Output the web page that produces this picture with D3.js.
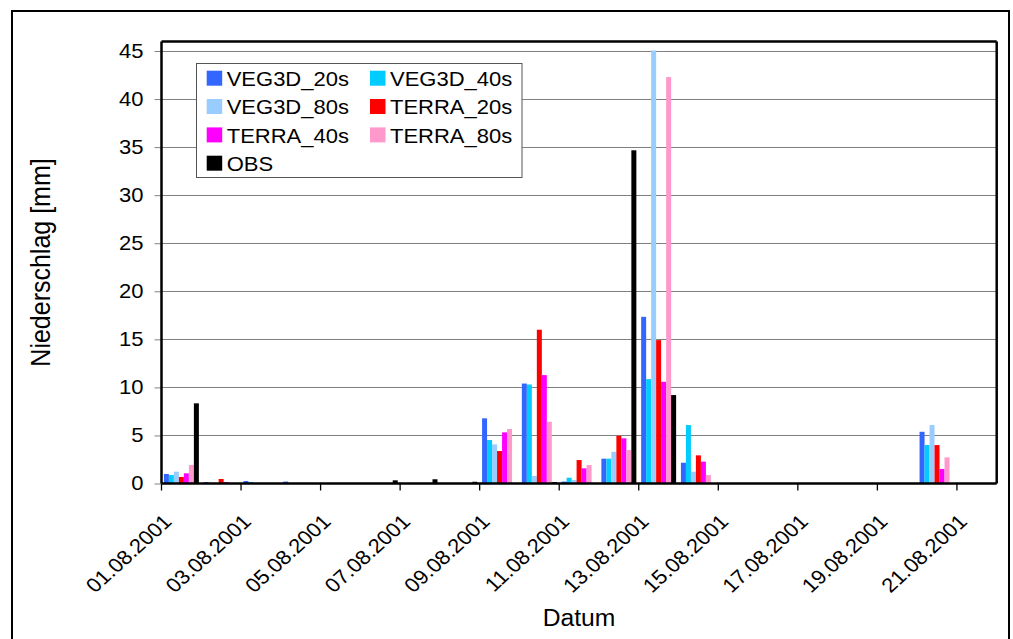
<!DOCTYPE html>
<html>
<head>
<meta charset="utf-8">
<script src="https://cdn.jsdelivr.net/npm/d3@7"></script>
<style>
  html, body { margin: 0; padding: 0; background: #fff; }
  svg { display: block; }
  text { font-family: Arial, "Liberation Sans", sans-serif; fill: #000; }
</style>
</head>
<body>
<svg id="chart" width="1013" height="639"></svg>
<script>
const categories = ["01.08.2001","02.08.2001","03.08.2001","04.08.2001","05.08.2001","06.08.2001","07.08.2001",
  "08.08.2001","09.08.2001","10.08.2001","11.08.2001","12.08.2001","13.08.2001","14.08.2001",
  "15.08.2001","16.08.2001","17.08.2001","18.08.2001","19.08.2001","20.08.2001","21.08.2001"];
const seriesNames = ["VEG3D_20s","VEG3D_40s","VEG3D_80s","TERRA_20s","TERRA_40s","TERRA_80s","OBS"];
const seriesColors = ["#3366FF","#00CCFF","#99CCFF","#FF0000","#FF00FF","#FF99CC","#000000"];
const veg3d20 = [0.99, 0.15, 0.26, 0.2, 0, 0, 0, 0, 6.78, 10.4, 0.2, 2.58, 17.34, 2.16, 0, 0, 0, 0, 0, 5.38, 0];
const veg3d40 = [0.88, 0, 0.15, 0, 0, 0, 0, 0, 4.52, 10.3, 0.6, 2.58, 10.86, 6.08, 0, 0, 0, 0, 0, 4.0, 0];
const veg3d80 = [1.23, 0, 0, 0, 0, 0, 0, 0, 4.07, 0.78, 0.36, 3.3, 45.06, 1.23, 0, 0, 0, 0, 0, 6.08, 0];
const terra20 = [0.68, 0.47, 0, 0, 0, 0, 0, 0, 3.38, 16.0, 2.44, 4.97, 14.92, 2.93, 0, 0, 0, 0, 0, 4.0, 0];
const terra40 = [1.06, 0.15, 0, 0, 0, 0, 0, 0, 5.32, 11.28, 1.58, 4.7, 10.58, 2.27, 0, 0, 0, 0, 0, 1.51, 0];
const terra80 = [1.92, 0, 0, 0, 0, 0, 0, 0, 5.67, 6.42, 1.92, 3.48, 42.29, 0.88, 0, 0, 0, 0, 0, 2.72, 0];
const obs     = [8.34, 0, 0, 0, 0, 0.33, 0.44, 0.18, 0, 0.15, 0, 34.67, 9.2, 0, 0, 0, 0, 0, 0, 0, 0];
const yTicks = [0, 5, 10, 15, 20, 25, 30, 35, 40, 45];
const xLabelEvery = 2;
const yTitle = "Niederschlag [mm]";
const xTitle = "Datum";

const seriesValues = [veg3d20, veg3d40, veg3d80, terra20, terra40, terra80, obs];

const svg = d3.select("#chart");
const pLeft = 161.5, pRight = 996.7, pTop = 41.4, pBottom = 483.5;
const SX = 1.1; // horizontal stretch of the reference's text

// outer frame
svg.append("rect").attr("x", 12).attr("y", 11).attr("width", 997).attr("height", 640)
  .attr("fill", "none").attr("stroke", "#000").attr("stroke-width", 2);

const x = d3.scaleBand().domain(categories).range([pLeft, pRight]).paddingInner(0).paddingOuter(0);
const y = d3.scaleLinear().domain([0, 46]).range([pBottom, pTop]);
const xs = d3.scaleBand().domain(seriesNames).range([2.4, x.bandwidth() - 2.4]).padding(0);

// gridlines
svg.append("g").selectAll("line").data(yTicks.filter(d => d > 0)).join("line")
  .attr("x1", pLeft).attr("x2", pRight)
  .attr("y1", d => Math.round(y(d)) + 0.5).attr("y2", d => Math.round(y(d)) + 0.5)
  .attr("stroke", "#808080").attr("stroke-width", 1);

// y axis ticks & labels
const yAxis = d3.axisLeft(y).tickValues(yTicks).tickSize(7).tickPadding(11);
const gy = svg.append("g").attr("transform", `translate(${pLeft},0)`).call(yAxis);
gy.select(".domain").remove();
gy.selectAll(".tick line").attr("stroke", "#808080");
gy.selectAll(".tick text").attr("font-size", 20).attr("font-family", "Arial, 'Liberation Sans', sans-serif")
  .attr("fill", "#000").attr("x", -18 / SX).attr("transform", `scale(${SX},1)`);

// bars
const groups = svg.append("g").selectAll("g").data(seriesNames).join("g")
  .attr("fill", (d, i) => seriesColors[i]);
groups.selectAll("rect").data((s, i) => categories.map((c, j) => ({ c, s, v: seriesValues[i][j] })))
  .join("rect")
  .filter(d => d.v > 0)
  .attr("x", d => x(d.c) + xs(d.s))
  .attr("width", xs.bandwidth())
  .attr("y", d => y(d.v))
  .attr("height", d => y(0) - y(d.v));

// x axis ticks
const tickCats = categories.filter((d, i) => i % xLabelEvery === 0);
const gx = svg.append("g");
gx.selectAll("line").data(tickCats).join("line")
  .attr("x1", d => x(d)).attr("x2", d => x(d))
  .attr("y1", pBottom).attr("y2", pBottom + 7)
  .attr("stroke", "#000").attr("stroke-width", 1.3);
gx.selectAll("text").data(tickCats).join("text")
  .attr("transform", d => `translate(${x(d) + 6},${518}) scale(${SX},1) rotate(-45)`)
  .attr("text-anchor", "end").attr("dy", "0.35em").attr("font-size", 20)
  .text(d => d);

// plot frame
svg.append("line").attr("x1", pLeft).attr("x2", pRight).attr("y1", pBottom).attr("y2", pBottom)
  .attr("stroke", "#000").attr("stroke-width", 2.5);
svg.append("line").attr("x1", pLeft).attr("x2", pLeft).attr("y1", pTop).attr("y2", pBottom)
  .attr("stroke", "#000").attr("stroke-width", 2.5);
svg.append("line").attr("x1", pLeft).attr("x2", pRight).attr("y1", pTop).attr("y2", pTop)
  .attr("stroke", "#000").attr("stroke-width", 2.5);
svg.append("line").attr("x1", pRight).attr("x2", pRight).attr("y1", pTop).attr("y2", pBottom)
  .attr("stroke", "#000").attr("stroke-width", 2.5);

// axis titles
svg.append("text").attr("transform", `translate(50,262.5) scale(${SX},1) rotate(-90)`)
  .attr("text-anchor", "middle").attr("font-size", 25).text(yTitle);
svg.append("text").attr("transform", `translate(579,626) scale(1.05,1)`)
  .attr("text-anchor", "middle").attr("font-size", 23.5).text(xTitle);

// legend
const lg = svg.append("g");
lg.append("rect").attr("x", 196.5).attr("y", 63.5).attr("width", 325.5).attr("height", 114)
  .attr("fill", "#fff").attr("stroke", "#555").attr("stroke-width", 1);
const colX = [206.7, 370];
const rowY = [86, 114.3, 142.7, 171];
seriesNames.forEach((s, i) => {
  const cx = colX[i % 2], ry = rowY[Math.floor(i / 2)];
  lg.append("rect").attr("x", cx).attr("y", ry - 15.3).attr("width", 15.5).attr("height", 15)
    .attr("fill", seriesColors[i]);
  lg.append("text").attr("transform", `translate(${cx + 20},${ry}) scale(${SX},1)`)
    .attr("font-size", 20).text(s);
});
</script>
</body>
</html>
